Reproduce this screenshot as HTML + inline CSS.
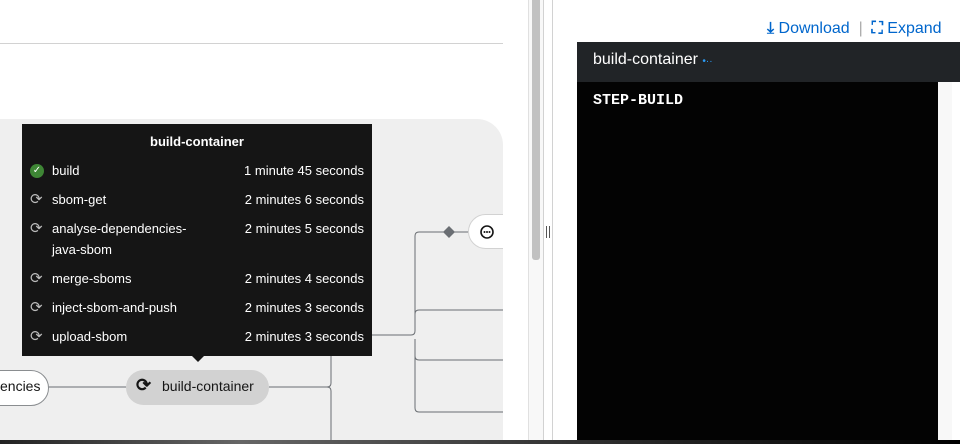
<!DOCTYPE html>
<html><head><style>
body{margin:0;width:960px;height:444px;overflow:hidden;background:#fff;font-family:"Liberation Sans",sans-serif;position:relative}
.a{position:absolute}
.row{position:absolute;left:30px;right:8px;color:#fff;font-size:13px}
.row .n{position:absolute;left:22px}
.row .t{position:absolute;right:0}
.ic{position:absolute;left:0;top:1px;width:14px;height:14px;font-size:15px;line-height:14px;color:#bbb}
</style></head><body>
<div class="a" style="left:0;top:43px;width:503px;height:1px;background:#d2d2d2"></div>
<div class="a" style="left:0;top:119px;width:503px;height:325px;background:#efefef;border-top-right-radius:26px"></div>
<svg class="a" style="left:0;top:0" width="503" height="444">
<g stroke="#6a6e73" stroke-width="1" fill="none">
<path d="M48 387H126M269 387H327Q331 387 331 383V356M331 391V440M327 387Q331 387 331 391"/>
<path d="M372 335H411Q415 335 415 331V236Q415 232 419 232H468M415 339V408Q415 412 419 412H503M415 314Q415 310 419 310H503M415 356Q415 360 419 360H503"/>
</g>
<path d="M449 226L455 232L449 238L443 232Z" fill="#6a6e73"/>
<rect x="468.5" y="214.5" width="70" height="34" rx="17" fill="#fff" stroke="#d2d2d2"/>
<circle cx="487" cy="232" r="6" fill="none" stroke="#151515" stroke-width="1.6"/>
<circle cx="484.5" cy="232" r="1" fill="#151515"/><circle cx="487" cy="232" r="1" fill="#151515"/><circle cx="489.5" cy="232" r="1" fill="#151515"/>
</svg>
<div class="a" style="left:-40px;top:370px;width:87px;height:34px;background:#fff;border:1px solid #8a8d90;border-radius:18px"></div>
<div class="a" style="left:0;top:378px;font-size:14px;color:#151515">encies</div>
<div class="a" style="left:126px;top:370px;width:143px;height:35px;background:#d2d2d2;border-radius:18px"></div>
<div class="a" style="left:136px;top:375px;font-size:18px;color:#151515;font-weight:bold">⟳</div>
<div class="a" style="left:162px;top:378px;font-size:14px;color:#151515">build-container</div>
<div class="a" style="left:22px;top:124px;width:350px;height:232px;background:#151515"></div>
<div class="a" style="left:191px;top:355px;width:0;height:0;border-left:7px solid transparent;border-right:7px solid transparent;border-top:7px solid #151515"></div>
<div class="a" style="left:22px;top:134px;width:350px;text-align:center;color:#fff;font-size:13px;font-weight:bold">build-container</div>
<div class="a" style="left:0;top:0;width:372px">
<div class="row" style="top:163px"><span class="ic" style="background:#3e8635;border-radius:50%;color:#fff;font-size:10px;text-align:center">✓</span><span class="n">build</span><span class="t">1 minute 45 seconds</span></div>
<div class="row" style="top:192px"><span class="ic">⟳</span><span class="n">sbom-get</span><span class="t">2 minutes 6 seconds</span></div>
<div class="row" style="top:221px"><span class="ic">⟳</span><span class="n" style="line-height:21px;top:-3px">analyse-dependencies-<br>java-sbom</span><span class="t">2 minutes 5 seconds</span></div>
<div class="row" style="top:271px"><span class="ic">⟳</span><span class="n">merge-sboms</span><span class="t">2 minutes 4 seconds</span></div>
<div class="row" style="top:300px"><span class="ic">⟳</span><span class="n">inject-sbom-and-push</span><span class="t">2 minutes 3 seconds</span></div>
<div class="row" style="top:329px"><span class="ic">⟳</span><span class="n">upload-sbom</span><span class="t">2 minutes 3 seconds</span></div>
</div>
<div class="a" style="left:528px;top:0;width:14px;height:444px;background:#f8f8f8;border-left:1px solid #e0e0e0"></div>
<div class="a" style="left:532px;top:0;width:8px;height:260px;background:#c1c1c1;border-radius:0 0 3px 3px"></div>
<div class="a" style="left:543px;top:0;width:1px;height:444px;background:#d2d2d2"></div>
<div class="a" style="left:552px;top:0;width:1px;height:444px;background:#d2d2d2"></div>
<div class="a" style="left:546px;top:226px;width:1px;height:12px;background:#555"></div>
<div class="a" style="left:549px;top:226px;width:1px;height:12px;background:#555"></div>
<div class="a" style="left:767px;top:20px;font-size:16px;color:#0066cc;white-space:nowrap"><b>⤓</b> Download <span style="color:#aaa">&nbsp;|&nbsp;</span> <b>⛶</b> Expand</div>
<div class="a" style="left:577px;top:42px;width:383px;height:40px;background:#212427"></div>
<div class="a" style="left:593px;top:51px;font-size:16px;color:#fff">build-container <span style="color:#2b9af3;font-size:10px">•··</span></div>
<div class="a" style="left:577px;top:82px;width:361px;height:358px;background:#030303"></div>
<div class="a" style="left:938px;top:82px;width:14px;height:358px;background:#f8f8f8"></div>
<div class="a" style="left:593px;top:92px;font-family:'Liberation Mono',monospace;font-weight:bold;font-size:15px;color:#fff">STEP-BUILD</div>
<div class="a" style="left:0;top:440px;width:960px;height:4px;background:linear-gradient(90deg,#222,#666 25%,#222 70%,#000)"></div>
</body></html>
